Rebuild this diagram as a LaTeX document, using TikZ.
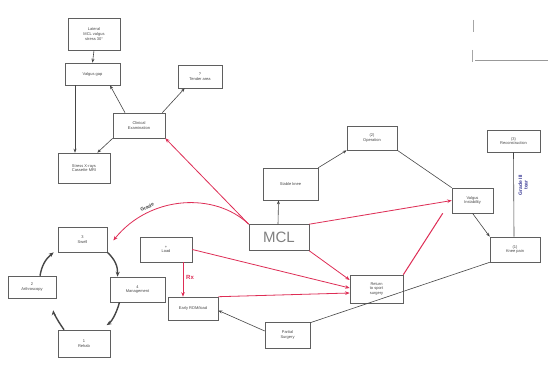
\documentclass[tikz,border=0pt]{standalone}
\usepackage{fontspec}
\setmainfont{Liberation Sans}
\usetikzlibrary{arrows.meta,calc}
\definecolor{ink}{RGB}{70,70,70}
\definecolor{boxline}{RGB}{95,95,95}
\definecolor{redink}{RGB}{222,45,85}
\definecolor{blueink}{RGB}{60,60,150}
\tikzset{
  bx/.style={draw=boxline, line width=0.6pt, align=center, inner sep=1pt,
    font=\fontsize{4}{4.6}\selectfont, text=ink},
  blk/.style={draw=ink, line width=0.6pt, -{Stealth[length=4pt,width=3pt]}},
  blkline/.style={draw=ink, line width=0.6pt},
  redarr/.style={draw=redink, line width=0.8pt, -{Stealth[length=4.5pt,width=3.5pt]}},
  redline/.style={draw=redink, line width=0.8pt},
  cyc/.style={draw=ink, line width=1.4pt, -{Stealth[length=5pt,width=4pt]}},
}
\begin{document}
\begin{tikzpicture}[x=1pt,y=-1pt]
\useasboundingbox (0,0) rectangle (553,390);
\fill[white] (0,0) rectangle (553,390);

% top-right frame marks
\draw[blkline,draw=gray!70] (473,20) -- (473,32);
\draw[blkline,draw=gray!70] (472,50) -- (472,62);
\draw[blkline,draw=gray!80] (475,60) -- (548,60);

% nodes
\node[bx, minimum width=52, minimum height=32] (b1) at (94,34) {Lateral\\MCL valgus\\stress 30\textdegree};
\node[bx, minimum width=55, minimum height=22] (b2) at (92.5,74) {Valgus gap};
\node[bx, minimum width=44, minimum height=23] (b3) at (200,76.5) {?\\Tender area};
\node[bx, minimum width=52, minimum height=25] (b4) at (139,125.5) {Clinical\\Examination};
\node[bx, minimum width=52, minimum height=30] (b5) at (84,168) {Stress X-rays\\Cassette MRI};
\node[bx, minimum width=55, minimum height=32] (stab) at (290.5,184) {Stable knee};
\node[bx, minimum width=50, minimum height=24] (op) at (372,138) {(2)\\Operation};
\node[bx, minimum width=53, minimum height=22] (far) at (513.5,141) {(3)\\Reconstruction};
\node[bx, minimum width=41, minimum height=25] (vi) at (472.5,200.5) {Valgus\\Instability};
\node[bx, minimum width=50, minimum height=25] (kp) at (515,249.5) {(1)\\Knee pain};
\node[bx, minimum width=60, minimum height=26, font=\fontsize{15}{15}\selectfont, text=gray] (mcl) at (279,237.5) {MCL};
\node[bx, minimum width=49, minimum height=25] (sw) at (82.5,239.5) {3\\Swell};
\node[bx, minimum width=48, minimum height=22] (ar) at (32,287) {2\\Arthroscopy};
\node[bx, minimum width=55, minimum height=25] (mg) at (137.5,289.5) {4\\Management};
\node[bx, minimum width=52, minimum height=27] (rh) at (84,343.5) {1\\Rehab};
\node[bx, minimum width=52, minimum height=25] (ld) at (166,249.5) {+\\Load};
\node[bx, minimum width=50, minimum height=23] (rom) at (193,308.5) {Early ROM/load};
\node[bx, minimum width=45, minimum height=26] (sg) at (287.5,335) {Partial\\Surgery};
\node[bx, minimum width=53, minimum height=28] (rt) at (376.5,289) {Return\\to sport\\surgery};

% blue handwritten note
\node[rotate=90, align=center, text=blueink, font=\fontsize{5}{5.5}\selectfont\bfseries] (note) at (523,185) {Grade III\\tear};

% top cluster
\draw[blk] (b1.south) -- (b2.north);
\draw[blk] ([xshift=-17.5]b2.south) -- ([xshift=-9]b5.north);
\draw[blk] ([xshift=-14]b4.north) -- ([xshift=17.5]b2.south);
\draw[blk] ([xshift=-3]b4.north east) -- ([xshift=7]b3.south west);
\draw[blk] (b4.south west) -- ([xshift=-13]b5.north east);

% MCL links
\draw[redarr] (mcl.north west) -- (b4.south east);
\draw[redarr] (mcl.north west) .. controls (215,192) and (150,195) .. node[pos=0.72, above, sloped, text=ink, font=\fontsize{5}{5}\selectfont\bfseries] (lab) {Grade} ([xshift=6,yshift=-1]sw.east);
\draw[blk] ([xshift=-1]mcl.north) -- ([xshift=-12]stab.south);
\draw[blk] (stab.north east) -- (op.south west);
\draw[blkline] (op.south east) -- (vi.north west);
\draw[redarr] (mcl.north east) -- (vi.west);
\draw[redarr] (mcl.south east) -- ([yshift=9]rt.west);
\draw[redarr] (ld.east) -- ([yshift=1]rt.west);
\draw[redarr] (rom.north east) -- ([yshift=-4]rt.west);
\draw[redarr] ([xshift=17]ld.south) -- ([xshift=-10]rom.north);
\node[text=redink, font=\fontsize{6}{6}\selectfont\bfseries, inner sep=0pt] (rx) at (190,277) {Rx};
\draw[blk] ([yshift=4]sg.west) -- ([yshift=-2]rom.east);
\draw[blkline] (kp.south west) -- ([yshift=-1]sg.north east);
\draw[blk] (vi.south) -- (kp.north west);
\draw[blkline] (far.south) -- ([xshift=-1]kp.north);
\draw[redline, line width=1pt] (rt.north east) -- ([xshift=-9]vi.south west);

% cycle
\draw[cyc] (sw.south east) to[bend left=25] ([xshift=-20]mg.north);
\draw[cyc, shorten >=8] ([xshift=-18]mg.south) to[bend left=20] ([xshift=16]rh.north);
\draw[cyc, shorten >=12] ([xshift=-20]rh.north) to[bend left=15] ([xshift=20]ar.south);
\draw[cyc] ([xshift=8]ar.north) to[bend left=20] ([xshift=-4]sw.south west);
\end{tikzpicture}
\end{document}
